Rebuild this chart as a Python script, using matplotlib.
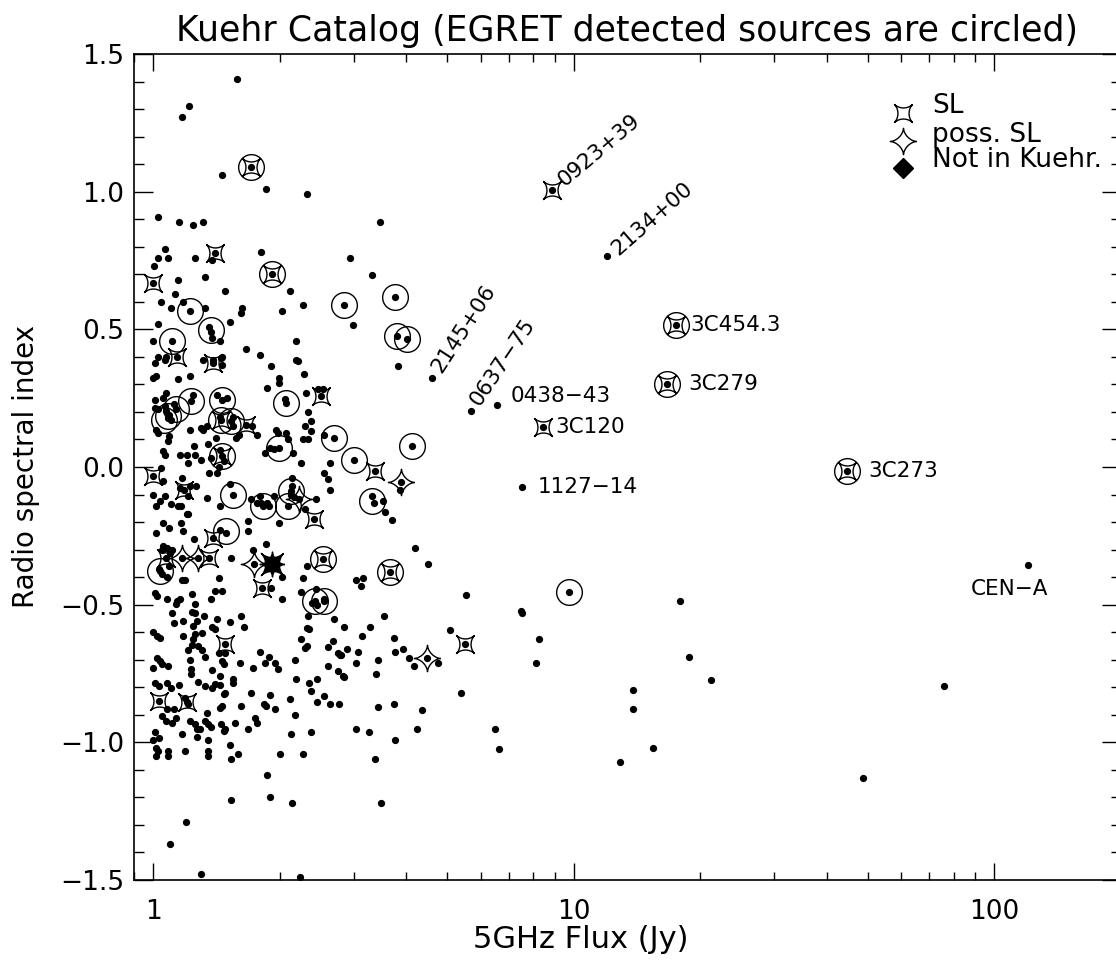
import numpy as np
import matplotlib
matplotlib.use("Agg")
import matplotlib.pyplot as plt
from matplotlib.ticker import FixedLocator, FuncFormatter, MultipleLocator, NullFormatter

# ---------------- data (5 GHz flux [Jy], radio spectral index) ----------------
kuehr_sources = [
    (1.58, 1.409), (1.172, 1.27), (1.213, 1.31),
    (1.71, 1.09), (1.456, 1.06), (1.85, 1.01), (2.32, 0.99),
    (1.026, 0.909), (1.149, 0.89), (1.24, 0.879), (1.31, 0.89),
    (1.40, 0.777), (1.38, 0.75), (1.805, 0.78), (2.94, 0.76), (1.066, 0.79), (1.024, 0.76),
    (1.085, 0.76), (1.258, 0.76), (1.005, 0.73),
    (1.0, 0.669), (1.146, 0.68), (1.33, 0.69), (1.92, 0.70), (1.48, 0.638), (2.12, 0.638),
    (1.126, 0.629), (1.045, 0.60), (1.105, 0.579),
    (1.226, 0.568), (1.176, 0.60), (1.33, 0.579), (1.63, 0.579), (1.615, 0.558), (2.02, 0.568),
    (2.27, 0.589), (2.84, 0.589), (2.99, 0.517),
    (1.36, 0.51), (1.37, 0.49), (1.38, 0.47), (1.52, 0.528), (1.024, 0.518), (1.108, 0.459),
    (1.0, 0.459), (1.44, 0.457), (2.18, 0.457),
    (1.66, 0.427), (1.79, 0.407), (1.14, 0.40), (1.39, 0.39), (1.46, 0.40), (2.19, 0.39),
    (1.024, 0.40), (1.07, 0.40),
    (3.46, 0.889), (3.32, 0.699), (3.76, 0.618), (3.79, 0.475), (4.02, 0.466), (3.81, 0.366),
    (4.59, 0.324), (5.70, 0.205), (6.56, 0.224), (8.43, 0.146), (7.52, -0.073), (8.85, 1.005),
    (11.96, 0.765), (17.47, 0.514), (16.68, 0.302), (44.7, -0.015),
    (4.12, 0.078), (3.0, 0.027), (3.37, -0.013), (3.88, -0.054), (3.87, -0.085), (3.32, -0.106),
    (3.35, -0.13), (3.52, -0.124),
    (1.007, 0.378), (1.064, 0.39), (1.386, 0.378), (1.31, 0.39), (1.45, 0.396), (1.46, 0.372),
    (1.91, 0.366), (2.21, 0.384), (2.28, 0.336), (1.99, 0.324), (1.99, 0.306), (1.86, 0.287),
    (1.0, 0.324), (1.016, 0.33), (1.145, 0.318), (1.22, 0.33),
    (2.5, 0.257), (2.46, 0.284), (2.53, 0.284), (2.07, 0.233), (2.06, 0.247), (2.31, 0.269),
    (2.33, 0.199), (2.37, 0.166), (2.37, 0.13), (2.29, 0.148), (2.27, 0.10), (2.33, 0.10),
    (1.23, 0.239), (1.24, 0.26),
    (1.074, 0.203), (1.093, 0.19), (1.083, 0.179), (1.10, 0.172), (1.064, 0.221), (1.054, 0.251),
    (1.074, 0.269), (1.026, 0.209), (1.007, 0.215), (1.007, 0.245), (1.134, 0.209), (1.12, 0.23),
    (1.016, 0.136), (1.026, 0.124), (1.093, 0.112), (1.083, 0.094),
    (1.45, 0.17), (1.53, 0.166), (1.66, 0.154), (1.46, 0.245), (1.42, 0.26), (1.50, 0.25),
    (1.44, 0.18), (1.55, 0.18),
    (1.30, 0.142), (1.31, 0.136), (1.34, 0.148), (1.22, 0.136),
    (1.25, 0.076), (1.2, 0.045), (1.26, 0.045), (1.155, 0.045), (1.054, 0.057), (1.064, 0.045),
    (1.46, 0.039), (1.44, 0.06), (1.47, 0.02), (1.43, 0.0),
    (1.35, 0.082), (1.41, 0.106), (1.37, 0.033), (1.30, 0.027), (1.36, -0.021), (1.42, -0.021),
    (1.21, 0.015),
    (1.57, 0.106), (1.55, 0.148), (1.60, 0.118), (1.72, 0.148), (1.76, 0.118),
    (1.99, 0.07), (1.89, 0.07), (1.94, 0.066), (2.09, 0.10), (2.07, 0.124), (1.96, 0.136),
    (1.98, 0.124), (1.84, 0.052), (2.15, 0.052), (2.25, 0.015),
    (2.55, 0.118), (2.63, 0.015), (2.55, -0.021), (2.6, -0.045), (2.63, -0.082), (2.69, 0.106),
    (1.0, -0.033), (1.045, -0.003), (1.054, -0.052),
    (1.186, -0.082), (1.17, -0.039), (1.155, -0.076), (1.22, -0.07), (1.265, -0.07), (1.21, -0.106),
    (1.0, -0.1), (1.035, -0.124), (1.064, -0.106), (1.016, -0.142), (1.10, -0.136), (1.145, -0.142),
    (1.165, -0.14),
    (1.55, -0.1), (1.52, -0.061), (1.34, -0.112), (1.44, -0.142),
    (1.82, -0.142), (2.09, -0.142), (2.13, -0.088), (1.80, -0.13), (1.86, -0.13), (1.88, -0.14),
    (2.13, -0.10), (2.16, -0.11), (2.14, -0.07),
    (2.22, -0.118), (2.41, -0.19), (2.44, -0.118), (2.29, -0.154), (1.99, -0.203), (2.14, -0.039),
    (1.79, -0.106), (1.94, -0.106), (1.71, -0.118), (1.76, -0.13), (1.68, -0.197), (1.68, -0.233),
    (1.44, -0.227), (1.49, -0.239), (1.386, -0.257), (1.054, -0.203), (1.093, -0.221),
    (1.165, -0.203), (1.176, -0.233), (1.2, -0.172), (1.21, -0.172), (1.016, -0.239),
    (1.054, -0.287), (1.25, -0.263), (1.53, -0.33), (2.44, -0.442), (1.91, -0.438),
    (1.048, -0.30), (1.078, -0.293), (1.097, -0.311), (1.108, -0.30),
    (1.17, -0.33), (1.28, -0.33), (1.36, -0.33), (1.07, -0.33),
    (1.04, -0.378), (1.03, -0.37), (1.05, -0.39), (1.09, -0.36), (1.08, -0.40),
    (1.17, -0.41), (1.19, -0.41),
    (1.74, -0.354), (1.85, -0.281), (1.73, -0.30),
    (2.53, -0.333), (2.32, -0.36), (2.02, -0.399), (1.81, -0.441), (2.02, -0.481),
    (2.42, -0.487), (2.54, -0.487), (2.38, -0.493), (2.45, -0.503), (2.55, -0.481),
    (2.27, -0.402), (2.25, -0.453), (1.43, -0.402), (1.40, -0.451), (1.46, -0.451),
    (1.37, -0.481), (1.235, -0.46), (1.01, -0.457), (1.02, -0.469), (1.08, -0.481), (1.14, -0.487),
    (1.16, -0.478), (1.13, -0.499), (1.26, -0.499),
    (1.62, -0.541), (1.64, -0.581), (1.52, -0.562), (1.42, -0.551),
    (1.32, -0.541), (1.258, -0.532), (1.235, -0.527), (1.27, -0.56), (1.246, -0.578), (1.18, -0.56),
    (1.12, -0.566), (1.11, -0.532),
    (1.38, -0.581), (1.40, -0.59), (1.0, -0.60), (1.02, -0.612), (1.04, -0.62), (1.18, -0.612),
    (1.258, -0.608), (1.246, -0.626), (1.305, -0.602),
    (1.48, -0.642), (1.235, -0.648), (1.21, -0.666), (1.28, -0.65), (1.305, -0.666), (1.43, -0.674),
    (1.48, -0.674),
    (1.33, -0.689), (1.226, -0.701), (1.23, -0.735), (1.23, -0.753),
    (1.02, -0.693), (1.04, -0.705), (1.0, -0.729), (1.05, -0.717), (1.087, -0.721),
    (1.456, -0.705), (1.47, -0.717), (1.38, -0.739), (1.61, -0.711),
    (1.79, -0.672), (1.725, -0.729), (1.84, -0.711), (1.88, -0.689), (1.95, -0.711), (1.98, -0.732),
    (2.17, -0.701), (2.25, -0.626), (2.30, -0.656), (2.32, -0.65), (2.32, -0.584), (2.34, -0.59),
    (2.33, -0.541),
    (2.69, -0.553), (2.6, -0.653), (2.68, -0.632), (2.75, -0.674), (2.78, -0.681), (2.6, -0.723),
    (2.75, -0.741), (2.83, -0.759),
    (2.19, -0.771), (2.34, -0.783), (2.45, -0.771), (2.37, -0.814), (2.54, -0.832), (2.45, -0.854),
    (2.63, -0.862), (2.76, -0.862), (2.11, -0.841), (2.17, -0.902), (2.13, -0.971), (2.37, -0.963),
    (1.9, -0.829), (1.83, -0.862), (1.85, -0.868), (1.95, -0.88), (1.71, -0.82), (1.62, -0.868),
    (1.55, -0.769), (1.55, -0.786), (1.48, -0.82), (1.47, -0.826),
    (1.44, -0.759), (1.40, -0.789), (1.44, -0.792), (1.38, -0.802), (1.33, -0.796), (1.28, -0.781),
    (1.03, -0.85), (1.01, -0.783), (1.03, -0.796), (1.08, -0.783), (1.10, -0.802), (1.15, -0.793),
    (1.20, -0.852), (1.19, -0.84), (1.21, -0.86),
    (1.08, -0.88), (1.12, -0.88), (1.05, -0.905),
    (1.34, -0.892), (1.44, -0.874), (1.456, -0.868),
    (1.13, -0.913), (1.11, -0.929), (1.07, -0.923),
    (1.22, -0.923), (1.26, -0.935), (1.29, -0.95), (1.33, -0.923), (1.35, -0.935), (1.37, -0.944),
    (1.27, -0.953),
    (1.45, -0.935), (1.47, -0.959), (1.48, -0.95),
    (1.565, -0.931), (1.68, -0.953), (1.745, -0.91), (1.76, -0.929),
    (1.17, -0.971), (1.27, -0.981), (1.35, -0.993),
    (1.01, -0.963), (1.03, -0.983), (1.0, -0.99), (1.52, -1.011),
    (1.015, -1.019), (1.026, -1.032), (1.015, -1.05), (1.087, -1.032), (1.087, -1.05),
    (1.19, -1.032), (1.35, -1.032), (1.35, -1.05), (1.53, -1.062), (1.59, -1.041),
    (2.0, -1.041), (2.27, -1.041), (1.86, -1.12), (1.53, -1.21), (1.90, -1.20), (2.14, -1.219),
    (1.197, -1.289), (1.097, -1.37), (1.30, -1.479), (2.23, -1.489),
    (9.75, -0.454), (7.48, -0.523), (7.52, -0.532), (8.28, -0.624), (8.13, -0.713), (6.65, -1.023),
    (6.49, -0.953), (5.40, -0.822), (5.50, -0.642), (5.53, -0.464), (5.07, -0.592), (4.48, -0.693),
    (4.06, -0.692), (4.17, -0.723), (4.76, -0.712), (3.93, -0.662), (3.75, -0.671), (3.73, -0.621),
    (3.53, -0.541), (3.66, -0.382), (3.03, -0.412), (3.15, -0.402), (3.12, -0.433), (4.20, -0.293),
    (4.50, -0.354), (3.70, -0.193), (3.55, -0.163), (2.84, -0.581), (3.28, -0.581), (3.13, -0.612),
    (2.89, -0.662), (3.06, -0.671), (2.80, -0.681), (3.03, -0.711), (2.84, -0.762), (3.42, -0.702),
    (3.38, -0.753), (3.42, -0.872), (3.74, -0.862), (4.35, -0.883), (3.03, -0.953), (3.25, -0.961),
    (3.76, -0.992), (4.23, -0.953), (3.37, -1.062), (3.48, -1.219),
    (12.9, -1.07), (15.4, -1.02), (13.8, -0.81), (13.8, -0.88), (17.9, -0.485), (18.8, -0.69),
    (21.2, -0.775), (48.8, -1.128), (76.0, -0.797), (120.0, -0.357),
]

egret_sources = [
    (1.71, 1.09), (1.92, 0.70), (17.47, 0.514), (16.68, 0.302), (44.7, -0.015), (3.66, -0.382),
    (2.53, -0.333), (1.46, 0.039), (1.45, 0.17),
    (2.84, 0.589), (3.76, 0.618), (3.79, 0.475), (4.02, 0.466), (1.226, 0.568), (1.37, 0.499),
    (1.108, 0.459), (4.12, 0.078), (3.0, 0.027), (3.32, -0.124), (9.75, -0.454), (2.69, 0.106),
    (2.07, 0.233), (1.23, 0.239), (1.083, 0.184), (1.134, 0.209), (1.06, 0.17), (1.53, 0.166),
    (1.99, 0.07), (1.55, -0.1), (1.82, -0.142), (2.09, -0.142), (2.13, -0.088), (1.49, -0.233),
    (1.04, -0.378), (2.42, -0.487), (2.54, -0.487), (1.46, 0.245),
]

sl_sources = [
    (1.71, 1.09), (1.92, 0.70), (17.47, 0.514), (16.68, 0.302), (44.7, -0.015), (3.66, -0.382),
    (2.53, -0.333), (1.46, 0.039), (1.45, 0.17),
    (1.0, 0.669), (1.40, 0.777), (1.14, 0.40), (1.386, 0.378), (2.5, 0.257), (1.66, 0.154),
    (3.37, -0.013), (1.0, -0.033), (1.186, -0.082), (2.41, -0.19), (1.386, -0.257), (1.36, -0.33),
    (1.07, -0.33), (1.81, -0.441), (1.48, -0.642), (1.03, -0.85), (1.20, -0.852), (5.50, -0.642),
    (8.85, 1.005), (8.43, 0.146),
]

poss_sl_sources = [
    (3.88, -0.054), (2.22, -0.118), (1.17, -0.33), (1.28, -0.33), (1.74, -0.354), (4.48, -0.693),
]

not_in_kuehr = [(1.915, -0.354)]

label_names = ["0923+39", "2134+00", "2145+06", "0637\u221275", "0438\u221243", "3C120",
               "1127\u221214", "3C454.3", "3C279", "3C273", "CEN\u2212A"]
label_flux = [8.85, 11.96, 4.59, 5.70, 6.56, 8.43, 7.52, 17.47, 16.68, 44.7, 120.0]
label_alpha = [1.005, 0.765, 0.324, 0.205, 0.224, 0.146, -0.073, 0.514, 0.302, -0.015, -0.357]
label_rotation = [40, 41, 57, 56, 0, 0, 0, 0, 0, 0, 0]
label_offset_px = [(9, 8), (8, 5), (5, 7), (4, 7), (14, 9), (13, 0), (16, 0), (15, 0), (21, 0),
                   (21, 0), (-57, -24)]

legend_names = ["SL", "poss. SL", "Not in Kuehr."]

x_ticks = [1, 10, 100]
x_tick_labels = ["1", "10", "100"]
y_ticks = [-1.5, -1.0, -0.5, 0.0, 0.5, 1.0, 1.5]

# ---------------- marker shapes ----------------
def superellipse(expo, rot_deg, n=240):
    t = np.linspace(0, 2 * np.pi, n)
    x = np.sign(np.cos(t)) * np.abs(np.cos(t)) ** expo
    y = np.sign(np.sin(t)) * np.abs(np.sin(t)) ** expo
    r = np.deg2rad(rot_deg)
    xr = x * np.cos(r) - y * np.sin(r)
    yr = x * np.sin(r) + y * np.cos(r)
    return np.column_stack([xr, yr])

SL_MARK = superellipse(3.4, 45)
POSS_MARK = superellipse(3.2, 0)

# ---------------- figure ----------------
plt.rcParams['font.family'] = ['DejaVu Sans']
plt.rcParams['axes.unicode_minus'] = True

W, H = 1116, 963
fig = plt.figure(figsize=(W / 100, H / 100), dpi=100)
ax = fig.add_axes([134 / W, 83 / H, (1121 - 134) / W, (880 - 54) / H])

ax.set_xscale('log')
ax.set_xlim(0.9, 200)
ax.set_ylim(-1.5, 1.5)

kx = [p[0] for p in kuehr_sources]
ky = [p[1] for p in kuehr_sources]
ax.plot(kx, ky, ls='none', marker='o', ms=4.2, color='black', zorder=5)

ex = [p[0] for p in egret_sources]
ey = [p[1] for p in egret_sources]
ax.plot(ex, ey, ls='none', marker='o', ms=18.5, mfc='none', mec='black', mew=1.0, zorder=4)

sx = [p[0] for p in sl_sources]
sy = [p[1] for p in sl_sources]
ax.plot(sx, sy, ls='none', marker=SL_MARK, ms=13, mfc='none', mec='black', mew=1.0, zorder=4)

px = [p[0] for p in poss_sl_sources]
py = [p[1] for p in poss_sl_sources]
ax.plot(px, py, ls='none', marker=POSS_MARK, ms=19, mfc='none', mec='black', mew=1.0, zorder=4)

nx = [p[0] for p in not_in_kuehr]
ny = [p[1] for p in not_in_kuehr]
ax.plot(nx, ny, ls='none', marker=POSS_MARK, ms=18, color='black', zorder=6)
ax.plot(nx, ny, ls='none', marker=SL_MARK, ms=16, color='black', zorder=6)
ax.plot(nx, ny, ls='none', marker='D', ms=8, color='black', zorder=6)

for name, fx, fy, rot, off in zip(label_names, label_flux, label_alpha, label_rotation, label_offset_px):
    ax.annotate(name, (fx, fy), xytext=off, textcoords='offset pixels',
                rotation=rot, rotation_mode='anchor', ha='left', va='center',
                fontsize=15.5, zorder=7)

# axes styling
ax.xaxis.set_major_locator(FixedLocator(x_ticks))
ax.set_xticklabels(x_tick_labels)
ax.xaxis.set_minor_locator(matplotlib.ticker.LogLocator(base=10, subs=np.arange(2, 10)))
ax.xaxis.set_minor_formatter(NullFormatter())
ax.yaxis.set_major_locator(FixedLocator(y_ticks))
ax.yaxis.set_minor_locator(MultipleLocator(0.1))
ax.yaxis.set_major_formatter(FuncFormatter(lambda v, p: ("%.1f" % v).replace('-', '\u2212')))

ax.tick_params(which='both', direction='in', top=True, right=True, width=1.0, labelsize=19)
ax.tick_params(axis='x', which='major', length=12, pad=14)
ax.tick_params(axis='x', which='minor', length=5.5)
ax.tick_params(axis='y', which='major', length=14, pad=7)
ax.tick_params(axis='y', which='minor', length=7)
for s in ax.spines.values():
    s.set_linewidth(1.2)

ax.set_title("Kuehr Catalog (EGRET detected sources are circled)", fontsize=25, pad=9)
ax.set_xlabel("5GHz Flux (Jy)", fontsize=22)
ax.xaxis.set_label_coords(0.453, -0.054)
ax.set_ylabel("Radio spectral index", fontsize=20)
ax.yaxis.set_label_coords(-0.095, 0.5)

# legend (drawn in axes fraction)
legend_marks = [dict(marker=SL_MARK, ms=13, mfc='none', mec='black', mew=1.0),
                dict(marker=POSS_MARK, ms=19, mfc='none', mec='black', mew=1.0),
                dict(marker='D', ms=10, mfc='black', mec='black')]
legend_mark_y = [0.9286, 0.8947, 0.862]
legend_text_y = [0.9286, 0.8935, 0.8632]
for name, mk, my, ty in zip(legend_names, legend_marks, legend_mark_y, legend_text_y):
    ax.plot([0.779], [my], ls='none', transform=ax.transAxes, clip_on=False, zorder=8, **mk)
    ax.text(0.8085, ty, name, transform=ax.transAxes, ha='left', va='baseline', fontsize=19)

fig.savefig("out.png", dpi=100)
